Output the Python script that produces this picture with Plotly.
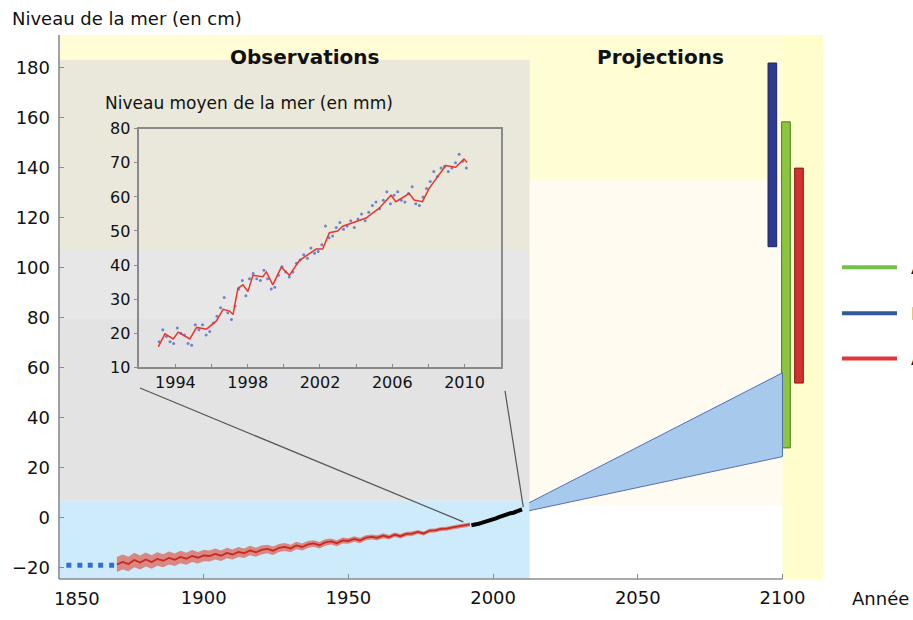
import plotly.graph_objects as go

# ---------------- data ----------------
# Tide-gauge reconstruction (cm), every two years
hist_years = list(range(1870, 1993, 2))
hist_cm = [-18.6, -17.6, -18.4, -16.8, -17.8, -16.6, -17.6, -16.4, -17.1, -16.0,
           -16.7, -15.6, -16.3, -15.2, -15.9, -15.0, -15.2, -14.4, -15.1, -14.0,
           -14.6, -13.6, -14.1, -13.0, -13.7, -12.8, -12.4, -13.1, -12.0, -11.6,
           -12.2, -11.0, -11.6, -10.6, -10.2, -10.9, -9.8, -9.4, -10.1, -9.0,
           -9.2, -8.4, -9.0, -7.9, -7.6, -7.9, -7.1, -7.7, -6.7, -7.3,
           -6.4, -6.3, -5.6, -6.2, -5.1, -5.0, -4.4, -4.3, -3.8, -3.5,
           -2.9, -2.6]
hist_err = [3.0, 3.0, 2.9, 2.9, 2.8, 2.8, 2.7, 2.7, 2.6, 2.6,
            2.5, 2.5, 2.4, 2.4, 2.3, 2.3, 2.2, 2.2, 2.1, 2.1,
            2.0, 2.0, 1.9, 1.9, 1.8, 1.8, 1.7, 1.7, 1.6, 1.6,
            1.5, 1.5, 1.4, 1.4, 1.3, 1.3, 1.3, 1.2, 1.2, 1.2,
            1.1, 1.1, 1.1, 1.0, 1.0, 1.0, 1.0, 0.9, 0.9, 0.9,
            0.9, 0.9, 0.8, 0.8, 0.8, 0.8, 0.8, 0.8, 0.8, 0.8,
            0.8, 0.8]

# Early estimate before the reconstruction (cm)
early_years = [1853.4, 1857.2, 1860.8, 1864.4, 1868.2]
early_cm = [-18.9, -18.9, -18.9, -18.9, -18.9]

# Satellite altimetry on the main scale (cm)
sat_years = [1992.5, 1993, 1994, 1995, 1996, 1997, 1998, 1999, 2000, 2001,
             2002, 2003, 2004, 2005, 2006, 2007, 2008, 2009, 2010]
sat_cm = [-2.9, -2.7, -2.5, -2.3, -2.0, -1.7, -1.1, -0.9, -0.5, -0.2,
          0.3, 0.8, 1.1, 1.5, 1.9, 2.1, 2.4, 2.9, 3.4]

# AR4 projection envelope (cm)
ar4_years = [2012.5, 2100]
ar4_low = [2.9, 24.5]
ar4_high = [6.1, 58.0]

# Projection ranges for 2100 (cm)
scen_names = ["B1", "A1B", "A2"]
scen_x = [2096.5, 2101.2, 2105.7]
scen_low = [108.4, 28.0, 53.9]
scen_high = [181.8, 158.3, 139.8]
scen_fill = ["#2E3A8F", "#8CC63F", "#D2322D"]
scen_edge = ["#1E2560", "#4E7A22", "#7E1D1A"]

# Legend entries (text runs past the right edge of the page)
legend_labels = ["A1B", "B1", "A2"]
legend_colors = ["#72C244", "#2F5A9C", "#E4343C"]

# Inset: mean sea level from altimetry (mm)
inset_t = [1993.05, 1993.42, 1993.88, 1994.15, 1994.8, 1995.17, 1995.72, 1996.27,
           1996.64, 1997.0, 1997.19, 1997.46, 1997.74, 1998.01, 1998.29, 1998.84,
           1999.03, 1999.39, 1999.86, 2000.31, 2000.87, 2001.42, 2001.79, 2002.15,
           2002.52, 2002.98, 2003.26, 2003.81, 2004.55, 2005.28, 2005.93, 2006.2,
           2006.94, 2007.21, 2007.67, 2008.04, 2008.5, 2008.96, 2009.51, 2009.97,
           2010.15]
inset_mm = [16.0, 19.8, 18.3, 20.3, 18.3, 21.7, 21.2, 23.6,
            27.0, 26.5, 25.5, 33.2, 34.2, 32.2, 37.0, 36.6,
            38.0, 34.2, 39.4, 37.0, 41.4, 43.3, 44.7, 44.7,
            49.5, 50.0, 51.4, 52.4, 53.8, 56.7, 60.5, 58.6,
            61.0, 59.1, 58.6, 62.5, 65.8, 69.2, 68.7, 71.1,
            70.1]
raw_t = [1993.1, 1993.3, 1993.5, 1993.7, 1993.9, 1994.1, 1994.3, 1994.5, 1994.7, 1994.9,
         1995.1, 1995.3, 1995.5, 1995.7, 1995.9, 1996.1, 1996.3, 1996.5, 1996.7, 1996.9,
         1997.1, 1997.3, 1997.5, 1997.7, 1997.9, 1998.1, 1998.3, 1998.5, 1998.7, 1998.9,
         1999.1, 1999.3, 1999.5, 1999.7, 1999.9, 2000.1, 2000.3, 2000.5, 2000.7, 2000.9,
         2001.1, 2001.3, 2001.5, 2001.7, 2001.9, 2002.1, 2002.3, 2002.5, 2002.7, 2002.9,
         2003.1, 2003.3, 2003.5, 2003.7, 2003.9, 2004.1, 2004.3, 2004.5, 2004.7, 2004.9,
         2005.1, 2005.3, 2005.5, 2005.7, 2005.9, 2006.1, 2006.3, 2006.5, 2006.7, 2006.9,
         2007.1, 2007.3, 2007.5, 2007.7, 2007.9, 2008.1, 2008.3, 2008.5, 2008.7, 2008.9,
         2009.1, 2009.3, 2009.5, 2009.7, 2009.9, 2010.1]
raw_mm = [17.5, 21.0, 19.0, 17.5, 17.0, 21.5, 20.0, 19.5, 17.0, 16.5,
          22.5, 21.0, 22.5, 19.5, 20.5, 23.0, 25.0, 27.5, 30.5, 26.0,
          24.0, 28.0, 33.0, 35.5, 31.0, 36.0, 37.5, 36.0, 35.5, 38.5,
          36.0, 33.0, 33.5, 37.0, 39.5, 38.0, 36.5, 38.0, 40.5, 41.5,
          43.0, 42.0, 45.0, 43.5, 44.0, 46.0, 51.5, 48.0, 48.5, 51.0,
          52.5, 50.5, 51.5, 53.0, 51.0, 53.5, 55.0, 53.0, 55.5, 57.5,
          58.5, 56.5, 59.0, 61.5, 58.0, 60.5, 61.5, 59.0, 58.5, 61.0,
          63.0, 58.0, 57.5, 60.0, 62.5, 64.5, 67.5, 66.0, 68.5, 69.0,
          67.5, 68.5, 70.0, 72.5, 70.5, 68.5]

main_xticks = [1850, 1900, 1950, 2000, 2050, 2100]
main_yticks = [-20, 0, 20, 40, 60, 80, 100, 120, 140, 160, 180]
inset_xticks = [1994, 1996, 1998, 2000, 2002, 2004, 2006, 2008, 2010]
inset_xlabels = ["1994", "", "1998", "", "2002", "", "2006", "", "2010"]
inset_yticks = [10, 20, 30, 40, 50, 60, 70, 80]

FONT = "DejaVu Sans"
X0, X1 = 1850, 2114
Y0, Y1 = -24.4, 193
OBS_END = 2012.7

fig = go.Figure()

# AR4 envelope
fig.add_trace(go.Scatter(
    x=ar4_years + ar4_years[::-1], y=ar4_high + ar4_low[::-1],
    fill="toself", fillcolor="#A6C9EC", mode="lines",
    line=dict(color="#5270B8", width=1), hoverinfo="skip", showlegend=False))

# Reconstruction uncertainty band and central line
upper = [v + e for v, e in zip(hist_cm, hist_err)]
lower = [v - e for v, e in zip(hist_cm, hist_err)]
fig.add_trace(go.Scatter(
    x=hist_years + hist_years[::-1], y=upper + lower[::-1],
    fill="toself", fillcolor="rgba(222,100,88,0.75)", mode="lines",
    line=dict(color="rgba(0,0,0,0)", width=0), hoverinfo="skip", showlegend=False))
fig.add_trace(go.Scatter(
    x=hist_years, y=hist_cm, mode="lines",
    line=dict(color="#C62A22", width=1.8), showlegend=False))

fig.add_trace(go.Scatter(
    x=early_years, y=early_cm, mode="markers",
    marker=dict(symbol="square", size=5, color="#2F6FD0"), showlegend=False))

fig.add_trace(go.Scatter(
    x=sat_years, y=sat_cm, mode="lines",
    line=dict(color="#000000", width=4), showlegend=False))

# Ranges for 2100
for name, xv, lo, hi, fc, ec in zip(scen_names, scen_x, scen_low, scen_high, scen_fill, scen_edge):
    fig.add_trace(go.Bar(
        x=[xv], y=[hi - lo], base=[lo], width=3.0, name=name,
        marker=dict(color=fc, line=dict(color=ec, width=1)), showlegend=False))

# Inset
fig.add_trace(go.Scatter(
    x=raw_t, y=raw_mm, mode="markers", xaxis="x2", yaxis="y2",
    marker=dict(size=3, color="#5A72C8", opacity=0.85), showlegend=False))
fig.add_trace(go.Scatter(
    x=inset_t, y=inset_mm, mode="lines", xaxis="x2", yaxis="y2",
    line=dict(color="#E8352E", width=1.5), showlegend=False))

shapes = []


def band(x_a, x_b, y_a, y_b, color):
    shapes.append(dict(type="rect", xref="x", yref="y", x0=x_a, x1=x_b, y0=y_a, y1=y_b,
                       fillcolor=color, line=dict(width=0), layer="below"))


# background bands: observations
band(X0, OBS_END, 183.1, Y1, "#FFFCD6")
band(X0, OBS_END, 107.5, 183.1, "#E9E8DA")
band(X0, OBS_END, 80.1, 107.5, "#E7E7E7")
band(X0, OBS_END, 6.9, 80.1, "#E3E3E3")
band(X0, OBS_END, Y0, 6.9, "#CDEBFA")
# projections
band(OBS_END, 2100, 134.9, Y1, "#FFFDD3")
band(OBS_END, 2100, 4.9, 134.9, "#FFFBF1")
band(OBS_END, 2100, Y0, 4.9, "#FFFFFF")
band(2100, X1, Y0, Y1, "#FFFDCC")

# inset panel
shapes.append(dict(type="rect", xref="x2 domain", yref="y2 domain", x0=0, x1=1, y0=0, y1=1,
                   fillcolor="#FFFFFF", line=dict(width=0), layer="below"))

# main axis lines
shapes.append(dict(type="line", xref="x", yref="y domain", x0=X0, x1=2100, y0=0, y1=0,
                   line=dict(color="#8C8C8C", width=1.6)))
shapes.append(dict(type="line", xref="x domain", yref="y domain", x0=0, x1=0, y0=0, y1=1,
                   line=dict(color="#8C8C8C", width=1.6)))

# connector lines from the inset down to the satellite period
shapes.append(dict(type="line", xref="paper", yref="paper", x0=0.106, y0=0.351, x1=0.5292, y1=0.105,
                   line=dict(color="#555555", width=1.2)))
shapes.append(dict(type="line", xref="paper", yref="paper", x0=0.5838, y0=0.3459, x1=0.6077, y1=0.1321,
                   line=dict(color="#555555", width=1.2)))

# legend swatches
leg_y = [0.573, 0.4883, 0.4054]
annotations = []
for lab, col, yy in zip(legend_labels, legend_colors, leg_y):
    shapes.append(dict(type="line", xref="paper", yref="paper", x0=1.0249, x1=1.0969, y0=yy, y1=yy,
                       line=dict(color=col, width=4)))
    annotations.append(dict(xref="paper", yref="paper", x=1.1126, y=yy, text=lab, showarrow=False,
                            xanchor="left", yanchor="middle", font=dict(family=FONT, size=18, color="#111")))

annotations += [
    dict(xref="paper", yref="paper", x=-0.064, y=1.0, yshift=17, text="Niveau de la mer (en cm)",
         showarrow=False, xanchor="left", yanchor="middle", font=dict(family=FONT, size=18, color="#111")),
    dict(xref="x", yref="y", x=1935, y=184.3, text="<b>Observations</b>", showarrow=False,
         font=dict(family=FONT, size=20, color="#111")),
    dict(xref="x", yref="y", x=2058, y=184.3, text="<b>Projections</b>", showarrow=False,
         font=dict(family=FONT, size=20, color="#111")),
    dict(xref="paper", yref="paper", x=1.0353, y=0, yshift=-19, text="Année", showarrow=False,
         xanchor="left", yanchor="middle", font=dict(family=FONT, size=18, color="#111")),
    dict(xref="x", yref="paper", x=1850, xshift=18, y=0, yshift=-19, text="1850", showarrow=False,
         xanchor="center", yanchor="middle", font=dict(family=FONT, size=18, color="#111")),
    dict(xref="x2 domain", yref="y2 domain", x=-0.10, y=1.0, yshift=26,
         text="Niveau moyen de la mer (en mm)", showarrow=False,
         xanchor="left", yanchor="middle", font=dict(family=FONT, size=17, color="#111")),
]

fig.update_layout(
    width=913, height=620,
    margin=dict(l=59, r=90, t=35, b=30),
    paper_bgcolor="#FFFFFF", plot_bgcolor="rgba(0,0,0,0)",
    barmode="overlay", showlegend=False,
    font=dict(family=FONT, size=18, color="#111"),
    shapes=shapes, annotations=annotations,
    xaxis=dict(range=[X0, X1], tickvals=main_xticks,
               ticktext=[""] + [str(v) for v in main_xticks[1:]],
               ticks="inside", ticklen=5, tickcolor="#8C8C8C", showline=False,
               showgrid=False, zeroline=False, ticklabelstandoff=6,
               tickfont=dict(family=FONT, size=18, color="#111")),
    yaxis=dict(range=[Y0, Y1], tickvals=main_yticks,
               ticks="inside", ticklen=5, tickcolor="#8C8C8C", showline=False,
               showgrid=False, zeroline=False, ticklabelstandoff=8,
               tickfont=dict(family=FONT, size=18, color="#111")),
    xaxis2=dict(domain=[0.1051, 0.5781], anchor="y2", range=[1992, 2012],
                tickvals=inset_xticks, ticktext=inset_xlabels,
                ticks="inside", ticklen=4, tickcolor="#8A8A8A",
                showline=True, mirror=True, linecolor="#8A8A8A", linewidth=1.5,
                showgrid=False, zeroline=False,
                tickfont=dict(family=FONT, size=16, color="#111")),
    yaxis2=dict(domain=[0.3892, 0.8276], anchor="x2", range=[10, 80],
                tickvals=inset_yticks,
                ticks="outside", ticklen=4, tickcolor="#8A8A8A",
                showline=True, mirror=True, linecolor="#8A8A8A", linewidth=1.5,
                showgrid=False, zeroline=False,
                tickfont=dict(family=FONT, size=16, color="#111")),
)

fig.write_html("out.html")
